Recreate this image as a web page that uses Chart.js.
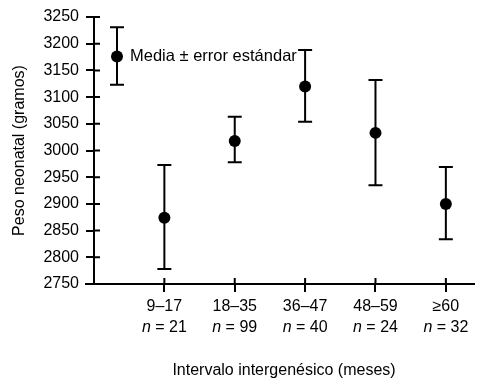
<!DOCTYPE html>
<html>
<head>
<meta charset="utf-8">
<script src="https://cdn.jsdelivr.net/npm/chart.js@4.4.1/dist/chart.umd.min.js"></script>
<style>
  html, body { margin: 0; padding: 0; background: #fff; }
  #wrap { width: 480px; height: 381px; }
</style>
</head>
<body>
<div id="wrap"><canvas id="c" width="480" height="381"></canvas></div>
<script>
const categories = ['9–17', '18–35', '36–47', '48–59', '≥60'];
const nValues = [21, 99, 40, 24, 32];
const means = [2874, 3018, 3120, 3033, 2900];
const upper = [2973, 3063, 3188, 3132, 2969];
const lower = [2778, 2978, 3054, 2935, 2834];
const legendSample = { mean: 3176, upper: 3231, lower: 3123 };
const legendText = 'Media ± error estándar';
const yTitle = 'Peso neonatal (gramos)';
const xTitle = 'Intervalo intergenésico (meses)';

const FONT = "'Liberation Sans', Arial, Helvetica, sans-serif";

function drawErrorBar(ctx, x, yTop, yBot) {
  ctx.save();
  ctx.strokeStyle = '#000';
  ctx.lineWidth = 2;
  ctx.beginPath();
  ctx.moveTo(x, yTop); ctx.lineTo(x, yBot);
  ctx.moveTo(x - 7, yTop); ctx.lineTo(x + 7, yTop);
  ctx.moveTo(x - 7, yBot); ctx.lineTo(x + 7, yBot);
  ctx.stroke();
  ctx.restore();
}

const decorPlugin = {
  id: 'decor',
  beforeDatasetsDraw(chart) {
    const { ctx, scales: { x, y } } = chart;
    for (let i = 0; i < means.length; i++) {
      drawErrorBar(ctx, x.getPixelForValue(i), y.getPixelForValue(upper[i]), y.getPixelForValue(lower[i]));
    }
  },
  afterDraw(chart) {
    const { ctx, chartArea, scales: { x, y } } = chart;
    ctx.save();
    ctx.strokeStyle = '#000';
    ctx.lineWidth = 2;
    ctx.beginPath();
    y.ticks.forEach(t => {
      const py = y.getPixelForValue(t.value);
      ctx.moveTo(chartArea.left, py); ctx.lineTo(chartArea.left + 6, py);
    });
    x.ticks.forEach(t => {
      const px = x.getPixelForValue(t.value);
      ctx.moveTo(px, chartArea.bottom); ctx.lineTo(px, chartArea.bottom - 6);
    });
    ctx.moveTo(chartArea.left - 9, chartArea.bottom);
    ctx.lineTo(chartArea.left, chartArea.bottom);
    ctx.stroke();

    ctx.fillStyle = '#000';
    ctx.textBaseline = 'middle';
    const ny = chartArea.bottom + 44;
    x.ticks.forEach((t, i) => {
      const px = x.getPixelForValue(t.value);
      const rest = ' = ' + nValues[i];
      ctx.font = "italic 16px " + FONT;
      const wn = ctx.measureText('n').width;
      ctx.font = "16px " + FONT;
      const wr = ctx.measureText(rest).width;
      const start = px - (wn + wr) / 2;
      ctx.textAlign = 'left';
      ctx.font = "italic 16px " + FONT;
      ctx.fillText('n', start, ny);
      ctx.font = "16px " + FONT;
      ctx.fillText(rest, start + wn, ny);
    });

    const lx = chartArea.left + 23;
    const lm = y.getPixelForValue(legendSample.mean);
    drawErrorBar(ctx, lx, y.getPixelForValue(legendSample.upper), y.getPixelForValue(legendSample.lower));
    ctx.beginPath();
    ctx.arc(lx, lm, 6, 0, Math.PI * 2);
    ctx.fill();
    ctx.textAlign = 'left';
    ctx.font = "16.5px " + FONT;
    ctx.fillText(legendText, lx + 13, lm);
    ctx.restore();
  }
};

new Chart(document.getElementById('c'), {
  type: 'scatter',
  data: {
    datasets: [{
      data: means.map((m, i) => ({ x: i, y: m })),
      pointRadius: 6,
      pointHoverRadius: 6,
      backgroundColor: '#000',
      borderWidth: 0
    }]
  },
  options: {
    responsive: false,
    animation: false,
    events: [],
    layout: { padding: { top: 17, right: 5, left: 0, bottom: 0 } },
    plugins: { legend: { display: false }, tooltip: { enabled: false } },
    scales: {
      x: {
        type: 'linear',
        min: -1,
        max: 4.4,
        afterBuildTicks: (s) => { s.ticks = categories.map((_, i) => ({ value: i })); },
        afterFit: (s) => { s.height = 97; },
        ticks: {
          callback: (v) => categories[v] !== undefined ? categories[v] : '',
          font: { size: 16, family: FONT, lineHeight: 1.3 },
          color: '#000',
          padding: 4,
          maxRotation: 0,
          autoSkip: false
        },
        grid: { display: true, drawOnChartArea: false, drawTicks: true, tickLength: 8, color: '#000', lineWidth: 2 },
        border: { display: true, color: '#000', width: 2 },
        title: { display: true, text: xTitle, color: '#000', font: { size: 16, family: FONT }, padding: { top: 0, bottom: 1 } }
      },
      y: {
        min: 2750,
        max: 3250,
        afterFit: (s) => { s.width = 94; },
        ticks: { stepSize: 50, callback: (v) => String(v), font: { size: 16, family: FONT }, color: '#000', padding: 7 },
        grid: { display: true, drawOnChartArea: false, drawTicks: true, tickLength: 8, color: '#000', lineWidth: 2 },
        border: { display: true, color: '#000', width: 2 },
        title: { display: true, text: yTitle, color: '#000', font: { size: 16, family: FONT }, padding: { top: 10, bottom: 0 } }
      }
    }
  },
  plugins: [decorPlugin]
});
</script>
</body>
</html>
